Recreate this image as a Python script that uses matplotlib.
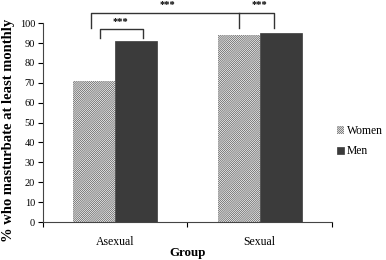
import numpy as np
import matplotlib.pyplot as plt

plt.rcParams['font.family'] = ['Liberation Serif', 'DejaVu Serif']
plt.rcParams['hatch.linewidth'] = 0.5

groups = ['Asexual', 'Sexual']
women = [71, 94]
men = [91, 95]
series_labels = ['Women', 'Men']
yticks = list(range(0, 101, 10))

# significance brackets: (x_left, x_right, y_top, y_leg, label_x, label_y)
brackets = [
    (-0.106, 0.192, 97.0, 92.5, 0.04, 101.0),
    (-0.168, 1.099, 105.0, 97.5, 0.36, 109.5),
]
mid_leg = (0.856, 105.0, 97.5)
right_label = (1.0, 109.5)

fig = plt.figure(figsize=(3.86, 2.60), dpi=100)
ax = fig.add_axes([0.111, 0.146, 0.749, 0.765])

x = np.arange(len(groups))
w = 0.29
ax.bar(x - w / 2, women, w, color='white', edgecolor='#555555',
       hatch='/' * 16, linewidth=0, label=series_labels[0])
ax.bar(x + w / 2, men, w, color='#3b3b3b', edgecolor='#3b3b3b', linewidth=0.5,
       label=series_labels[1])

for xl, xr, yt, yl, tx, ty in brackets:
    ax.plot([xl, xl, xr, xr], [yl, yt, yt, yl], color='#333333', lw=1.0,
            clip_on=False)
    ax.text(tx, ty, '***', ha='center', va='center', fontsize=7.5,
            fontweight='bold', clip_on=False)
ax.plot([mid_leg[0], mid_leg[0]], [mid_leg[2], mid_leg[1]], color='#333333',
        lw=1.0, clip_on=False)
ax.text(right_label[0], right_label[1], '***', ha='center', va='center',
        fontsize=7.5, fontweight='bold', clip_on=False)

ax.set_xlim(-0.5, 1.5)
ax.set_ylim(0, 100)
ax.set_yticks(yticks)
ax.set_xticks(x)
ax.set_xticklabels(groups)
ax.set_xticks([-0.5, 0.5, 1.5], minor=True)
ax.tick_params(axis='x', which='major', length=0, labelsize=8.5, pad=10)
ax.tick_params(axis='x', which='minor', length=3.6, direction='out', width=0.8)
ax.tick_params(axis='y', length=3.6, direction='out', labelsize=7.5,
               width=0.8, pad=2)
for s in ['top', 'right']:
    ax.spines[s].set_visible(False)
for s in ['left', 'bottom']:
    ax.spines[s].set_color('#444444')
    ax.spines[s].set_linewidth(0.8)

ax.set_xlabel('Group', fontsize=9.4, fontweight='bold')
ax.xaxis.set_label_coords(0.5, -0.126)
ax.set_ylabel('% who masturbate at least monthly', fontsize=10.5,
              fontweight='bold', va='center')
ax.yaxis.set_label_coords(-0.118, 0.462)

ax.legend(loc='upper left', bbox_to_anchor=(1.0, 0.51), frameon=False,
          fontsize=8.4, handlelength=0.6, handleheight=0.6, handletextpad=0.3,
          labelspacing=0.7, borderaxespad=0)

fig.savefig('out.png', dpi=100)
